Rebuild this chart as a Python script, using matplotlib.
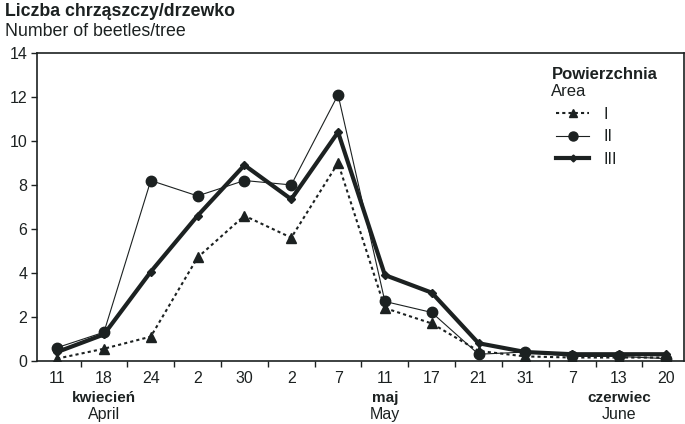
import matplotlib
matplotlib.use("Agg")
import matplotlib.pyplot as plt
from matplotlib.lines import Line2D

# ── Data ──────────────────────────────────────────────────────────────────────
day_labels = ["11", "18", "24", "2", "30", "2", "7", "11", "17", "21", "31", "7", "13", "20"]
area_I   = [0.1, 0.55, 1.1, 4.7, 6.6, 5.6, 9.0, 2.4, 1.7, 0.45, 0.2, 0.15, 0.15, 0.15]
area_II  = [0.6, 1.3, 8.2, 7.5, 8.2, 8.0, 12.1, 2.7, 2.2, 0.3, 0.4, 0.2, 0.2, 0.1]
area_III = [0.4, 1.2, 4.05, 6.6, 8.9, 7.35, 10.4, 3.9, 3.1, 0.8, 0.4, 0.3, 0.3, 0.3]
months_pl = ["kwiecień", "maj", "czerwiec"]
months_en = ["April", "May", "June"]
month_pos = [1, 7, 12]
y_ticks = [0, 2, 4, 6, 8, 10, 12, 14]

INK = "#1c2121"
plt.rcParams["font.family"] = ["Liberation Sans", "DejaVu Sans"]

fig = plt.figure(figsize=(6.85, 4.24), dpi=100, facecolor="white")
ax = fig.add_axes([0.054, 0.149, 0.944, 0.726])

x = list(range(len(day_labels)))
ax.plot(x, area_I, color=INK, lw=1.5, ls=(0, (1.5, 1.5)), marker="^", ms=7, zorder=3)
ax.plot(x, area_II, color=INK, lw=0.8, marker="o", ms=7.5, zorder=3)
ax.plot(x, area_III, color=INK, lw=3.0, marker="D", ms=4, zorder=4)

ax.set_xlim(-0.43, 13.38)
ax.set_ylim(0, 14)
ax.set_yticks(y_ticks)
ax.set_yticklabels([str(v) for v in y_ticks], fontsize=11.5, color=INK)
ax.set_xticks(x)
ax.set_xticklabels(day_labels, fontsize=11.5, color=INK)
ax.set_xticks([i + 0.5 for i in x[:-1]], minor=True)
ax.tick_params(axis="x", which="major", length=0, pad=7)
ax.tick_params(axis="x", which="minor", length=4, width=1, color=INK, direction="out")
ax.tick_params(axis="y", length=4, width=1, color=INK, direction="out", pad=3)
for sp in ax.spines.values():
    sp.set_color(INK)
    sp.set_linewidth(1.2)

# month labels under the day ticks
for pos, pl, en in zip(month_pos, months_pl, months_en):
    ax.text(pos, -0.097, pl, transform=ax.get_xaxis_transform(), ha="center", va="top",
            fontsize=11, fontweight="bold", color=INK)
    ax.text(pos, -0.15, en, transform=ax.get_xaxis_transform(), ha="center", va="top",
            fontsize=11.5, color=INK)

# y axis title
fig.text(0.008, 0.972, "Liczba chrząszczy/drzewko", fontsize=12.8, fontweight="bold",
         color=INK, va="center", ha="left")
fig.text(0.008, 0.925, "Number of beetles/tree", fontsize=12.8, color=INK,
         va="center", ha="left")

# legend
fig.text(0.805, 0.825, "Powierzchnia", fontsize=12, fontweight="bold", color=INK, va="center")
fig.text(0.805, 0.785, "Area", fontsize=12, color=INK, va="center")
handles = [
    Line2D([], [], color=INK, lw=1.5, ls=(0, (1.5, 1.5)), marker="^", ms=6),
    Line2D([], [], color=INK, lw=0.8, marker="o", ms=6.5),
    Line2D([], [], color=INK, lw=3.0, marker="D", ms=3.5),
]
ax.legend(handles, ["I", "II", "III"], loc="upper left", bbox_to_anchor=(0.78, 0.872),
          frameon=False, handlelength=2.1, handletextpad=0.9,
          labelspacing=0.47, labelcolor=INK, fontsize=11.5)

fig.savefig("out.png", dpi=100, facecolor="white")
